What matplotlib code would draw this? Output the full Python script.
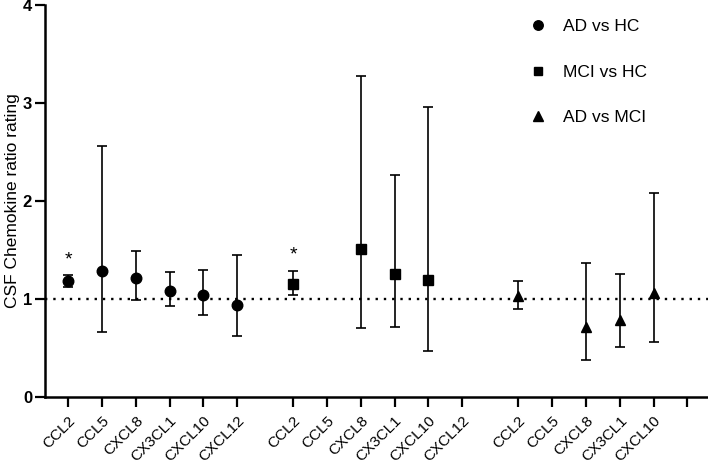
import numpy as np
import matplotlib
matplotlib.use("Agg")
import matplotlib.pyplot as plt
from matplotlib.lines import Line2D

plt.rcParams['font.family'] = ['Liberation Sans', 'DejaVu Sans']

# ---- data ----
chemokines = ["CCL2", "CCL5", "CXCL8", "CX3CL1", "CXCL10", "CXCL12"]
tick_labels = chemokines + chemokines + ["CCL2", "CCL5", "CXCL8", "CX3CL1", "CXCL10", ""]

ad_hc_mean = [1.18, 1.29, 1.21, 1.08, 1.04, 0.94]
ad_hc_low = [1.125, 0.66, 0.99, 0.93, 0.84, 0.62]
ad_hc_high = [1.245, 2.56, 1.49, 1.275, 1.30, 1.45]

mci_hc_mean = [1.15, np.nan, 1.51, 1.26, 1.19, np.nan]
mci_hc_low = [1.04, np.nan, 0.70, 0.71, 0.47, np.nan]
mci_hc_high = [1.29, np.nan, 3.28, 2.27, 2.96, np.nan]

ad_mci_mean = [1.03, np.nan, 0.71, 0.79, 1.06, np.nan]
ad_mci_low = [0.895, np.nan, 0.38, 0.51, 0.56, np.nan]
ad_mci_high = [1.18, np.nan, 1.37, 1.26, 2.08, np.nan]

series_names = ["AD vs HC", "MCI vs HC", "AD vs MCI"]
significant = [("AD vs HC", "CCL2"), ("MCI vs HC", "CCL2")]

# ---- layout ----
group_offsets = [0.0, 6.66, 13.32]
fig = plt.figure(figsize=(7.08, 4.63), dpi=100)
ax = fig.add_axes([44.5 / 708, 1 - 397 / 463, 1 - 44.5 / 708, (397 - 5) / 463])

series = [
    (ad_hc_mean, ad_hc_low, ad_hc_high, 'o', 7.6),
    (mci_hc_mean, mci_hc_low, mci_hc_high, 's', 7.0),
    (ad_mci_mean, ad_mci_low, ad_mci_high, '^', 7.4),
]

all_pos = []
for gi, (mean, low, high, mk, ms) in enumerate(series):
    x = np.arange(len(chemokines)) + group_offsets[gi]
    all_pos.extend(x)
    m = np.array(mean, dtype=float)
    lo = np.array(low, dtype=float)
    hi = np.array(high, dtype=float)
    ok = ~np.isnan(m)
    ax.errorbar(x[ok], m[ok], yerr=[m[ok] - lo[ok], hi[ok] - m[ok]], fmt=mk,
                color='black', ms=ms, ecolor='black', elinewidth=1.2,
                capsize=3.4, capthick=1.2, zorder=3)
    for (sname, chem) in significant:
        if sname == series_names[gi]:
            i = chemokines.index(chem)
            ax.text(x[i], hi[i] + 0.07, "*", ha='center', va='bottom',
                    fontsize=14)

ax.axhline(1.0, color='black', lw=1.7, linestyle=(0, (1, 2.5)), zorder=1)

ax.set_xlim(-0.70, 18.93)
ax.set_ylim(0, 4)
ax.set_xticks(all_pos)
ax.set_xticklabels(tick_labels, rotation=45, ha='right', rotation_mode='anchor',
                   fontsize=11)
ax.set_yticks([0, 1, 2, 3, 4])
ax.set_yticklabels(["0", "1", "2", "3", "4"], fontsize=12, fontweight='bold')
ax.tick_params(axis='both', width=1.6, length=7, direction='out', pad=2)
ax.tick_params(axis='x', pad=5)
for s in ['top', 'right']:
    ax.spines[s].set_visible(False)
for s in ['left', 'bottom']:
    ax.spines[s].set_linewidth(1.8)

ax.set_ylabel("CSF Chemokine ratio rating", fontsize=12.5, labelpad=2)

handles = [Line2D([], [], marker=mk, color='black', linestyle='None', markersize=ms * 0.9)
           for (_, _, _, mk, ms) in series]
leg = ax.legend(handles, series_names, loc='upper left',
                bbox_to_anchor=(529 / 708, 1 - 19 / 463), bbox_transform=fig.transFigure,
                frameon=False, fontsize=12.5, handlelength=1.0, handletextpad=0.93,
                labelspacing=1.75, borderpad=0, borderaxespad=0)

fig.savefig("out.png", dpi=100)
